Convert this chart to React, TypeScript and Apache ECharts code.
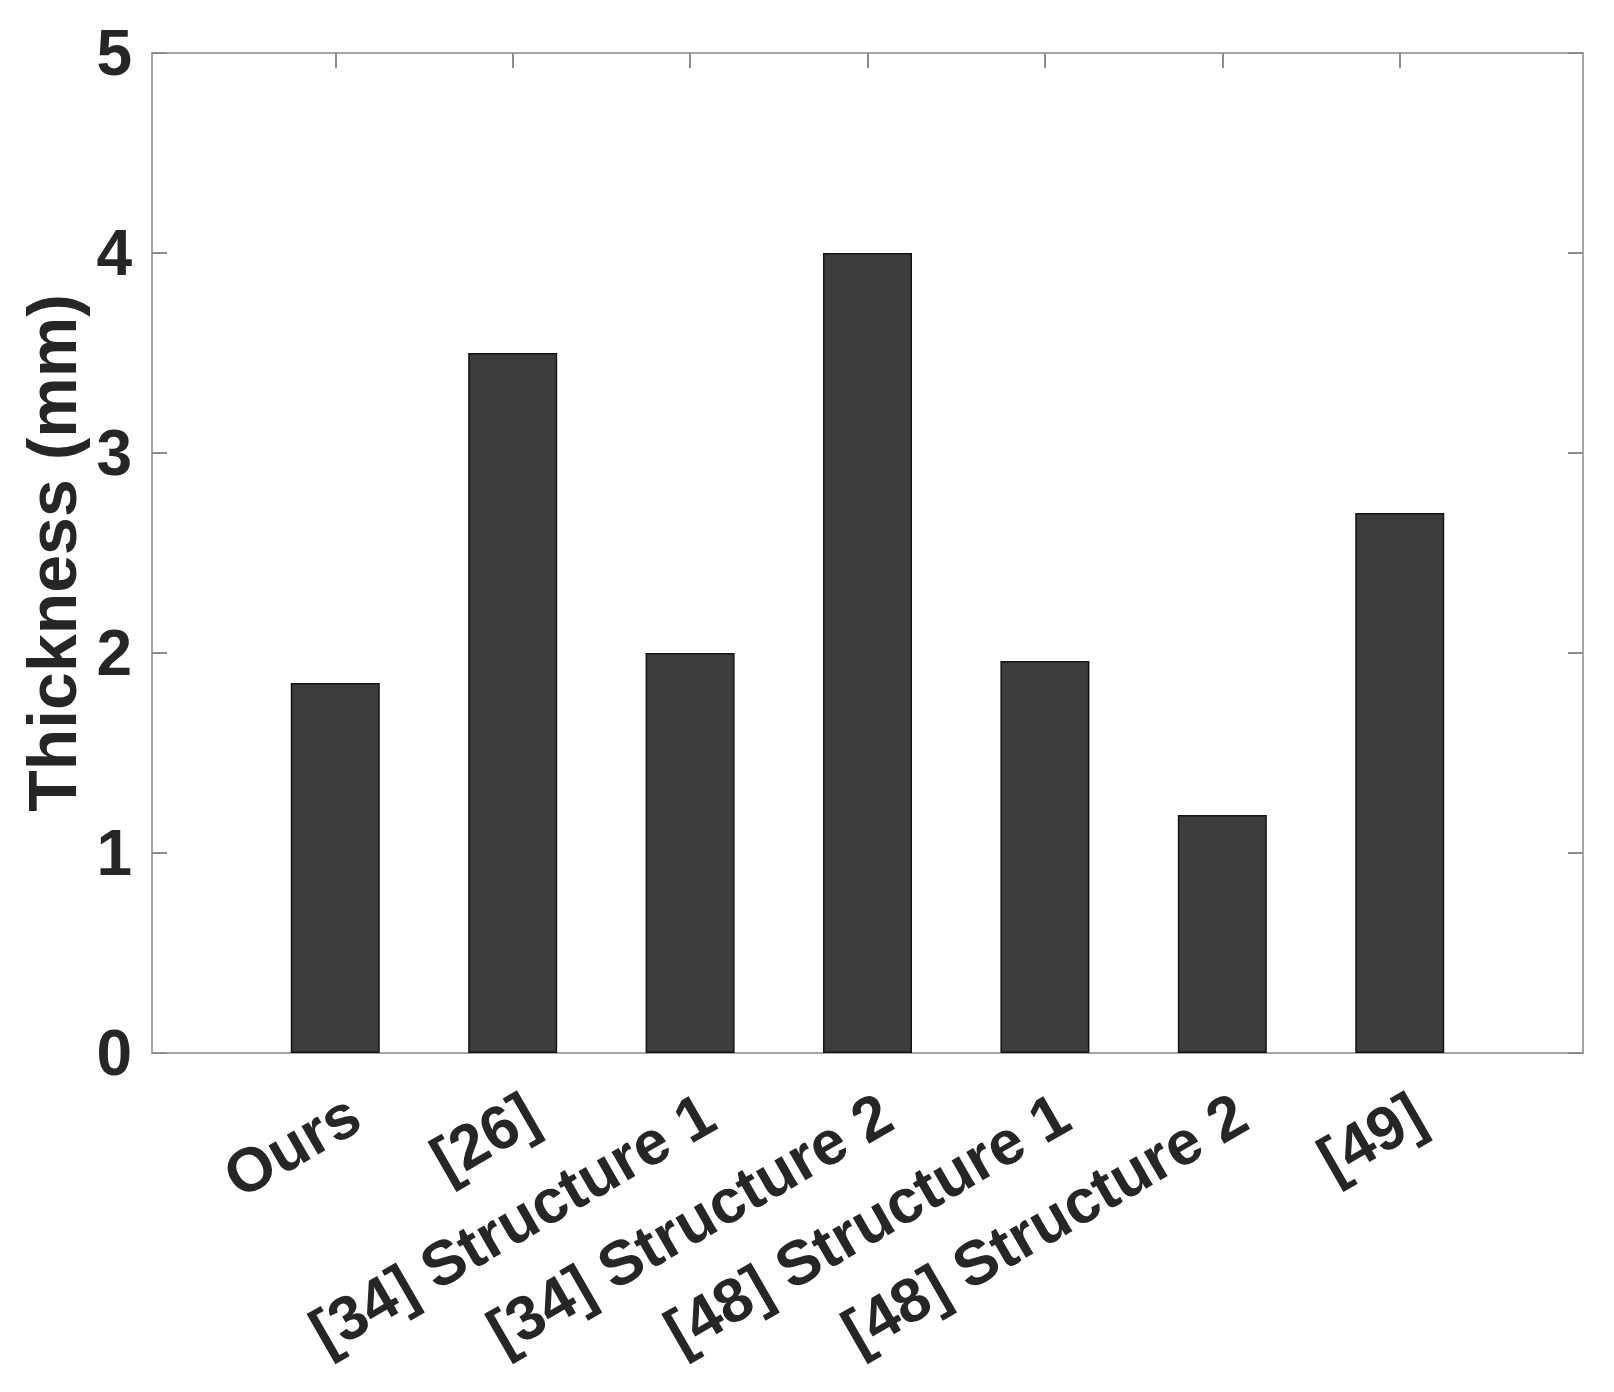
import React, { useEffect, useRef } from "react";
import * as echarts from "echarts";

const categories = [
  "Ours",
  "[26]",
  "[34] Structure 1",
  "[34] Structure 2",
  "[48] Structure 1",
  "[48] Structure 2",
  "[49]",
];
const thickness = [1.85, 3.5, 2.0, 4.0, 1.96, 1.19, 2.7];
const xPositions = [1, 2, 3, 4, 5, 6, 7];
const yTicks = [0, 1, 2, 3, 4, 5];
const yTitle = "Thickness (mm)";

const FONT = "'Liberation Sans', Arial, Helvetica, sans-serif";
const TEXT = "#262626";
const AXIS = "#a6a6a6";

export default function App() {
  const ref = useRef<HTMLDivElement>(null);
  useEffect(() => {
    if (!ref.current) return;
    const chart = echarts.init(ref.current, undefined, { renderer: "svg" });
    const xMin = -0.033;
    const xMax = categories.length + 1.033;
    const common = {
      axisLine: { show: true, onZero: false, lineStyle: { color: AXIS, width: 2 } },
      axisTick: { show: true, inside: true, length: 15, lineStyle: { color: "#8c8c8c", width: 2 } },
      splitLine: { show: false },
    };
    chart.setOption({
      animation: false,
      backgroundColor: "#ffffff",
      grid: { left: 152, top: 53, width: 1431, height: 1000, containLabel: false },
      xAxis: [
        {
          type: "value",
          min: xMin,
          max: xMax,
          position: "bottom",
          ...common,
          axisTick: { ...common.axisTick, customValues: xPositions },
          axisLabel: {
            customValues: xPositions,
            rotate: 30,
            margin: 31,
            align: "right",
            verticalAlign: "top",
            padding: [0, -4, 0, 0],
            fontFamily: FONT,
            fontWeight: "bold",
            fontSize: 62,
            color: TEXT,
            formatter: (v: number) => {
              const i = Math.round(v) - 1;
              return i >= 0 && i < categories.length ? categories[i] : "";
            },
          },
        },
        {
          type: "value",
          min: xMin,
          max: xMax,
          position: "top",
          ...common,
          axisTick: { ...common.axisTick, customValues: xPositions },
          axisLabel: { show: false },
        },
      ],
      yAxis: [
        {
          type: "value",
          min: yTicks[0],
          max: yTicks[yTicks.length - 1],
          interval: 1,
          position: "left",
          ...common,
          axisLabel: {
            margin: 20,
            fontFamily: FONT,
            fontWeight: "bold",
            fontSize: 64,
            color: TEXT,
          },
          name: yTitle,
          nameLocation: "middle",
          nameRotate: 90,
          nameGap: 64,
          nameTextStyle: {
            fontFamily: FONT,
            fontWeight: "bold",
            fontSize: 68,
            color: TEXT,
          },
        },
        {
          type: "value",
          min: yTicks[0],
          max: yTicks[yTicks.length - 1],
          interval: 1,
          position: "right",
          ...common,
          axisLabel: { show: false },
        },
      ],
      series: [
        {
          type: "bar",
          xAxisIndex: 0,
          yAxisIndex: 0,
          barWidth: 89,
          data: thickness.map((v, i) => [xPositions[i], v]),
          itemStyle: { color: "#3d3d3d", borderColor: "#141414", borderWidth: 1.5 },
        },
      ],
    });
    return () => chart.dispose();
  }, []);
  return (
    <div
      ref={ref}
      style={{ position: "absolute", left: 0, top: 0, width: 1614, height: 1392 }}
    />
  );
}
